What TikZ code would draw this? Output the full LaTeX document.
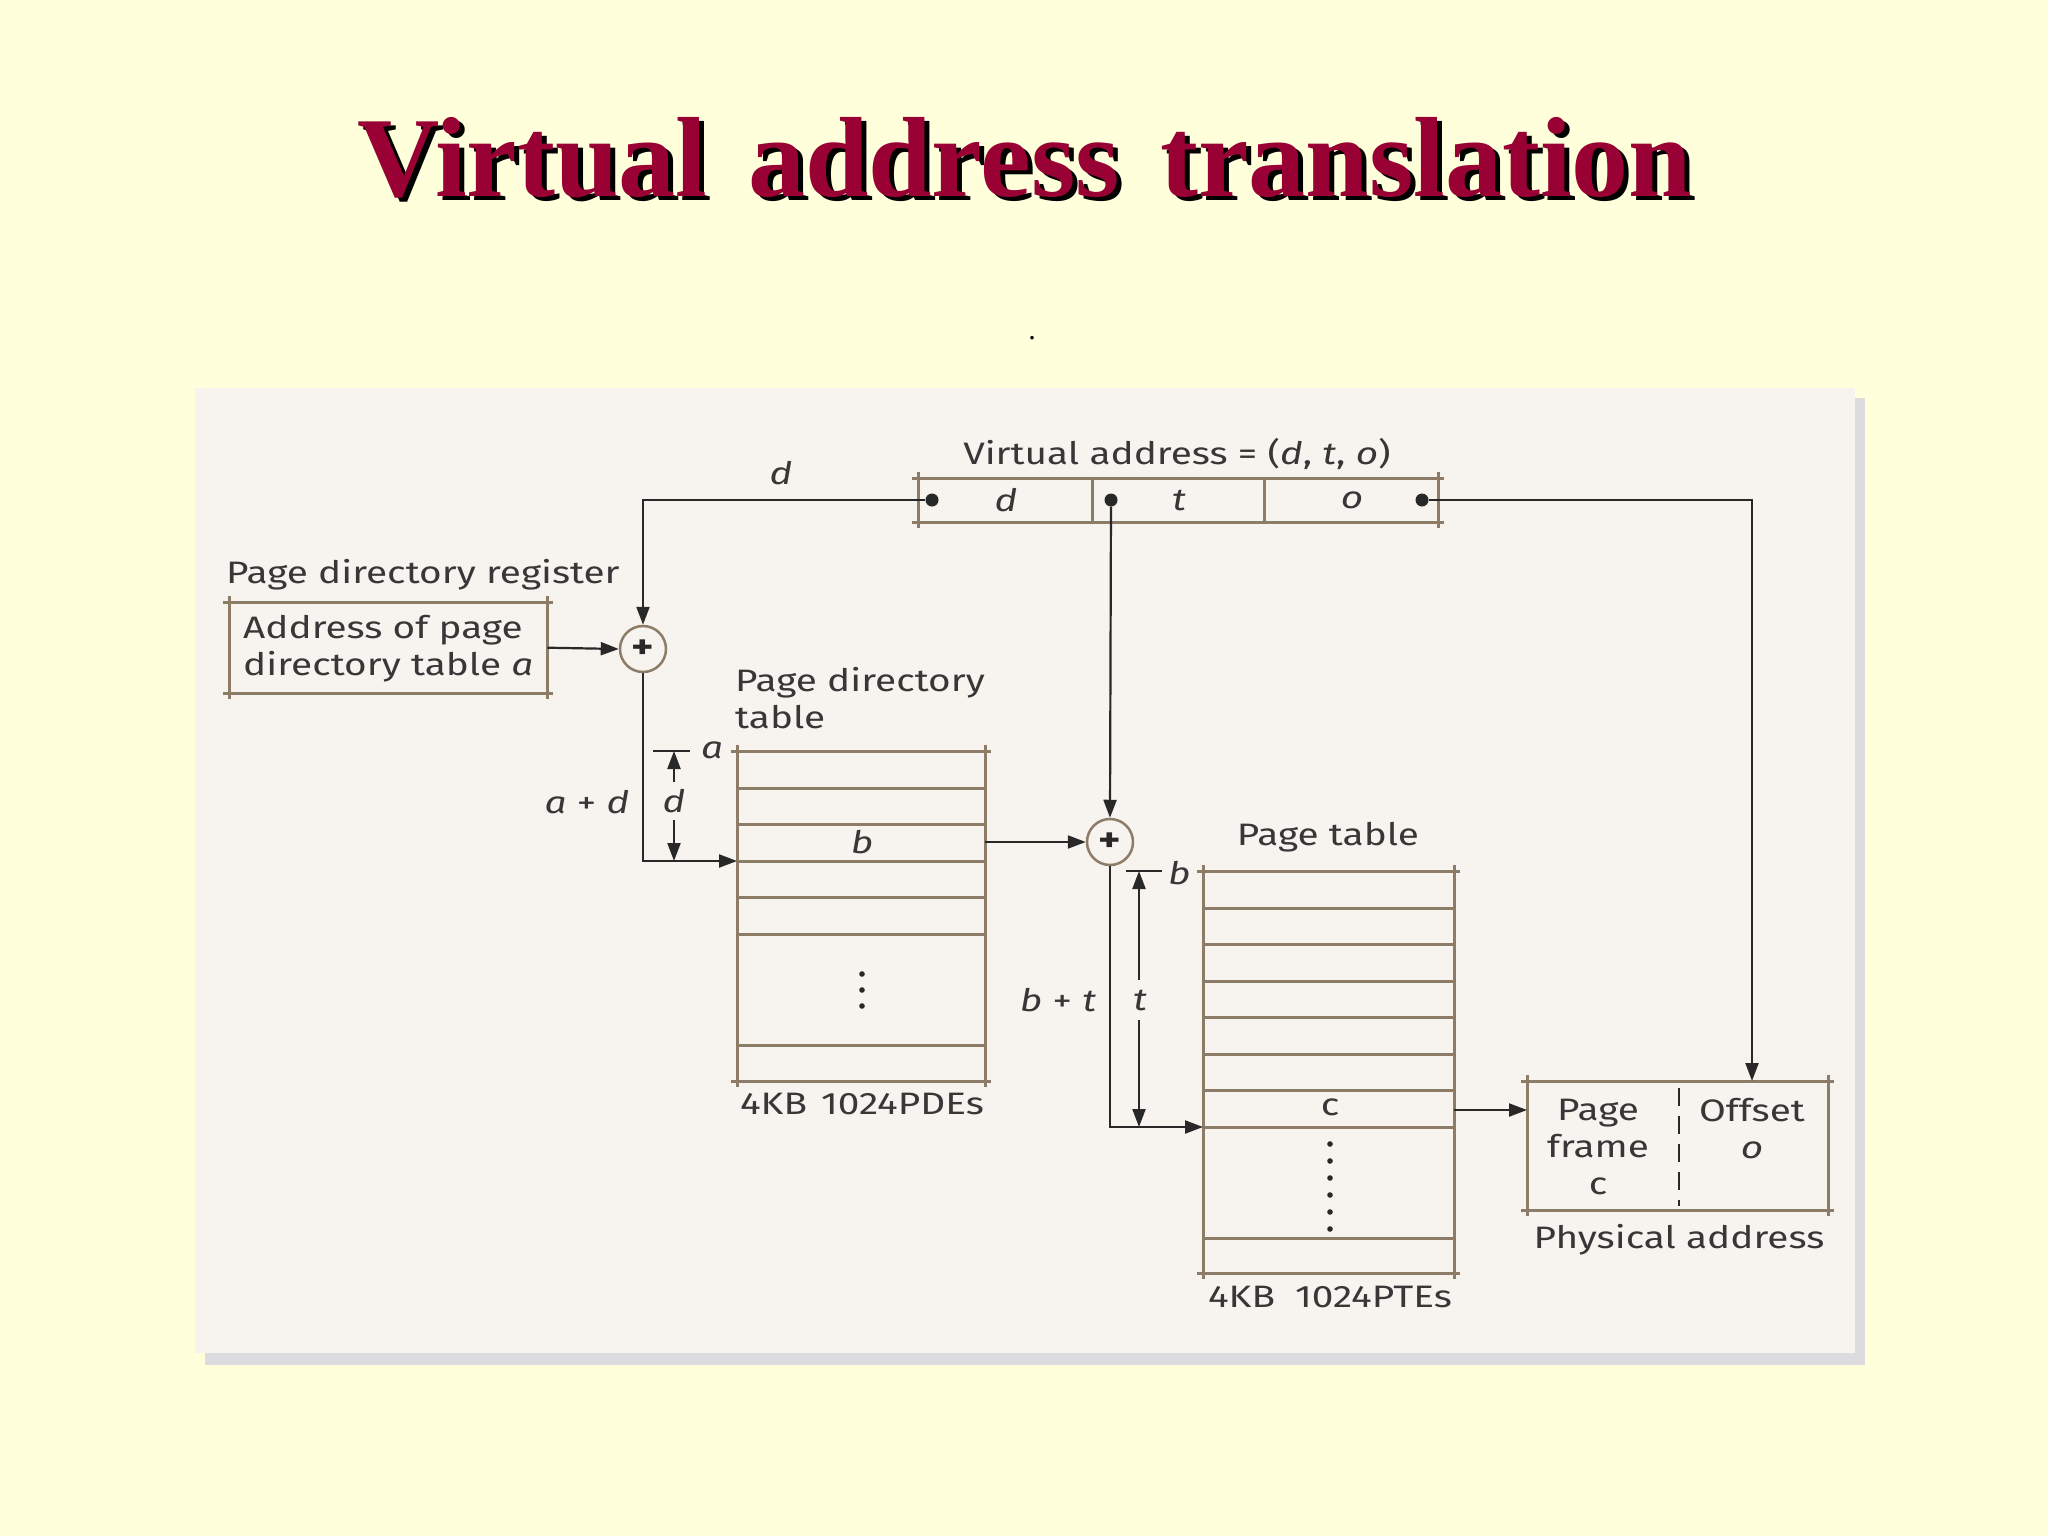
\documentclass[tikz,border=0pt]{standalone}
\usepackage{fontspec}
\setmainfont{Fira Sans}[FakeStretch=1.25]
\newfontfamily\plusfont{Fira Sans Medium}
\newfontfamily\titlefont{Liberation Serif}
\usetikzlibrary{arrows.meta}
\definecolor{slidebg}{RGB}{255,255,219}
\definecolor{panelbg}{RGB}{247,243,239}
\definecolor{shadowc}{RGB}{220,220,224}
\definecolor{boxc}{RGB}{140,124,104}
\definecolor{linec}{RGB}{40,40,40}
\definecolor{textc}{RGB}{55,55,55}
\definecolor{titlec}{RGB}{153,0,51}
\newcommand{\tabframe}[4]{%
  \draw[tbl] (#1-6,#2) -- (#3+6,#2);
  \draw[tbl] (#1-6,#4) -- (#3+6,#4);
  \draw[tbl] (#1,#2-6) -- (#1,#4+6);
  \draw[tbl] (#3,#2-6) -- (#3,#4+6);}
\newcommand{\titletext}{Virtual\hspace{12pt} address\hspace{12pt} translation}
\begin{document}
\begin{tikzpicture}[x=1pt,y=-1pt,
  lbl/.style={font=\fontsize{31}{37}\selectfont, text=textc, inner sep=0pt},
  conn/.style={draw=linec, line width=2.2pt},
  arr/.style={conn, -{Triangle[length=18pt,width=13pt]}},
  tbl/.style={draw=boxc, line width=3pt},
  adder/.style={circle, draw=boxc, line width=2.5pt, fill=panelbg, minimum size=46pt, inner sep=0pt, font=\bfseries\fontsize{34}{34}\selectfont, text=linec},
  dotc/.style={fill=linec, circle, inner sep=0pt, minimum size=13pt},
  area/.style={rectangle, inner sep=0pt, anchor=north west}
]
\useasboundingbox (0,0) rectangle (2048,1536);
\fill[slidebg] (0,0) rectangle (2048,1536);
\fill[shadowc] (205,398) rectangle (1865,1365);
\fill[panelbg] (195,388) rectangle (1855,1353);

% title (with shadow)
\node[anchor=base west, inner sep=0pt, font=\titlefont\bfseries\fontsize{114}{120}\selectfont] (title) at (357,196)
  {\rlap{\raisebox{-5pt}[0pt][0pt]{\hspace{5pt}\color{black}\titletext}}\color{titlec}\titletext};
\node[font=\titlefont\fontsize{30}{30}\selectfont, inner sep=0pt] (dotmark) at (1032,338) {.};

% virtual address
\node[lbl] (valbl) at (1177,454) {Virtual address = (\textit{d}, \textit{t}, \textit{o})};
\node[area, minimum width=174pt, minimum height=44pt] (vd) at (918,478) {};
\node[area, minimum width=172pt, minimum height=44pt] (vt) at (1092,478) {};
\node[area, minimum width=174pt, minimum height=44pt] (vo) at (1264,478) {};
\tabframe{918}{478}{1438}{522}
\draw[tbl] (1092,478) -- (1092,522);
\draw[tbl] (1264,478) -- (1264,522);
\node[lbl] (vdl) at (1006,500) {\textit{d}};
\node[lbl] (vtl) at (1179,500) {\textit{t}};
\node[lbl] (vol) at (1352,500) {\textit{o}};
\node[dotc] (dd) at (932,500) {};
\node[dotc] (dt) at (1111,500) {};
\node[dotc] (do) at (1422,500) {};

% page directory register
\node[lbl, anchor=west] (pdrlbl) at (226,575) {Page directory register};
\node[area, minimum width=318pt, minimum height=91pt] (pdr) at (229,602) {};
\tabframe{229}{602}{547}{693}
\node[lbl, anchor=west, align=left] (pdrtxt) at (243,649) {Address of page\\directory table \textit{a}};

% adders
\node[adder] (plus1) at (643,649) {+};
\node[adder] (plus2) at (1110,842) {+};

% page directory table
\node[lbl, anchor=west, align=left] (pdtlbl) at (735,698) {Page directory\\table};
\node[area, minimum width=248pt, minimum height=330pt] (pdt) at (737,751) {};
\tabframe{737}{751}{985}{1081}
\foreach \yy in {788,824,861,897,934,1045} \draw[tbl] (737,\yy) -- (985,\yy);
\node[lbl] (pdtb) at (862,842) {\textit{b}};
\foreach \yy in {974,990,1006} \fill[linec] (862,\yy) circle (2.8pt);
\node[lbl] (pdtfoot) at (862,1104) {4KB\hspace{14pt}1024PDEs};
\coordinate (pdtin) at (737,861);
\coordinate (pdtout) at (985,842);

% page table
\node[lbl] (ptlbl) at (1328,837) {Page table};
\node[area, minimum width=251pt, minimum height=402pt] (pt) at (1203,871) {};
\tabframe{1203}{871}{1454}{1273}
\foreach \yy in {908,944,981,1017,1054,1090,1127,1238} \draw[tbl] (1203,\yy) -- (1454,\yy);
\node[lbl] (ptc) at (1330,1107) {c};
\foreach \yy in {1144,1161,1178,1195,1212,1229} \fill[linec] (1330,\yy) circle (2.8pt);
\node[lbl] (ptfoot) at (1330,1297) {4KB\hspace{20pt}1024PTEs};
\coordinate (ptin) at (1203,1127);
\coordinate (ptout) at (1454,1110);

% physical address
\node[area, minimum width=301pt, minimum height=129pt] (phys) at (1527,1081) {};
\tabframe{1527}{1081}{1828}{1210}
\draw[draw=linec, line width=2.2pt, dash pattern=on 18pt off 10pt] (1679,1088) -- (1679,1206);
\node[lbl, align=center] (pfr) at (1598,1147) {Page\\frame\\c};
\node[lbl, align=center] (poff) at (1752,1129) {Offset\\\textit{o}};
\node[lbl] (physlbl) at (1679,1240) {Physical address};
\coordinate (physin) at (1527,1110);
\coordinate (phystop) at (1752,1081);

% connectors
\node[lbl] (dlbl) at (781,473) {\textit{d}};
\draw[arr] (dd) -- (643,500) -- (plus1.north);
\draw[arr] (pdr.east) -- (plus1.west);
\draw[arr] (plus1.south) |- (pdtin);
\draw[arr] (pdtout) -- (plus2.west);
\draw[arr] (dt) -- (plus2.north);
\draw[arr] (plus2.south) |- (ptin);
\draw[arr] (ptout) -- (physin);
\draw[arr] (do) -| (phystop);

% dimension a..a+d
\coordinate (datop) at (674,751);
\coordinate (dabot) at (674,861);
\draw[conn] (653,751) -- (690,751);
\draw[conn] (662,861) -- (690,861);
\draw[arr] (674,782) -- (datop);
\draw[arr] (674,820) -- (dabot);
\node[lbl] (dimd) at (674,801) {\textit{d}};
\node[lbl, anchor=west] (dima) at (701,750) {\textit{a}};
\node[lbl] (dimad) at (587,802) {\textit{a} + \textit{d}};

% dimension b..b+t
\coordinate (dbtop) at (1139,871);
\coordinate (dbbot) at (1139,1127);
\draw[conn] (1126,871) -- (1162,871);
\draw[conn] (1127,1127) -- (1160,1127);
\draw[arr] (1139,980) -- (dbtop);
\draw[arr] (1139,1020) -- (dbbot);
\node[lbl] (dimt) at (1140,1000) {\textit{t}};
\node[lbl, anchor=west] (dimb) at (1168,873) {\textit{b}};
\node[lbl] (dimbt) at (1058,1000) {\textit{b} + \textit{t}};
\end{tikzpicture}
\end{document}
